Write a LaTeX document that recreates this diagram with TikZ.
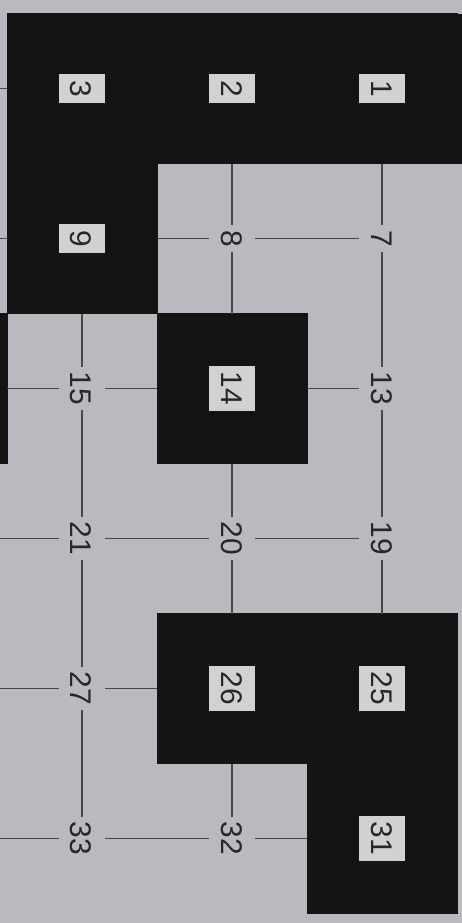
\documentclass[tikz,border=0pt]{standalone}
\usepackage{fontspec}
\setmainfont{Liberation Sans}
\usetikzlibrary{positioning}

\definecolor{paper}{RGB}{187,185,191}
\definecolor{ink}{RGB}{22,19,21}
\definecolor{tag}{RGB}{210,208,211}
\definecolor{wire}{RGB}{72,70,74}
\definecolor{digit}{RGB}{40,38,40}

\tikzset{
  cell/.style={fill=ink, draw=ink, line width=0.4pt, minimum size=3cm, inner sep=0pt, outer sep=0pt},
  boxed/.style={fill=tag, rotate=-90, text=digit, font=\fontsize{17}{17}\selectfont,
    text height=0.44cm, text depth=0pt, minimum height=0.92cm, minimum width=0.56cm,
    inner xsep=0.12cm, inner ysep=0pt},
  plain/.style={rotate=-90, text=digit, font=\fontsize{17}{17}\selectfont,
    text height=0.44cm, text depth=0pt, inner xsep=0.1cm, inner ysep=0.24cm},
  wire/.style={draw=wire, line width=0.7pt}
}

\begin{document}
\begin{tikzpicture}

  % The sheet
  \useasboundingbox (0,0) rectangle (9.24,-18.46);
  \fill[paper] (0,0) rectangle (9.24,-18.46);
  \clip (0,0) rectangle (9.24,-18.46);

  % Black cells
  \node[cell] (c1) at (7.64,-1.77) {};
  \node[cell] (c2) at (4.64,-1.77) {};
  \node[cell] (c3) at (1.64,-1.77) {};
  \node[cell] (c9) at (1.64,-4.77) {};
  \node[cell] (c14) at (4.64,-7.77) {};
  \node[cell] (c16) at (-1.36,-7.77) {};
  \node[cell] (c25) at (7.64,-13.77) {};
  \node[cell] (c26) at (4.64,-13.77) {};
  \node[cell] (c31) at (7.64,-16.77) {};
  \fill[ink] (c1.north east) rectangle ([xshift=0.1cm]c1.south east);

  % Numbers in the black cells
  \foreach \n in {1,2,3,9,14,25,26,31}
    \node[boxed] (n\n) at (c\n) {\n};

  % Numbers on the grid
  \node[plain] (n7) at (7.64,-4.77) {7};
  \node[plain] (n8) at (4.64,-4.77) {8};
  \node[plain] (n13) at (7.64,-7.77) {13};
  \node[plain] (n15) at (1.64,-7.77) {15};
  \node[plain] (n19) at (7.64,-10.77) {19};
  \node[plain] (n20) at (4.64,-10.77) {20};
  \node[plain] (n21) at (1.64,-10.77) {21};
  \node[plain] (n27) at (1.64,-13.77) {27};
  \node[plain] (n32) at (4.64,-16.77) {32};
  \node[plain] (n33) at (1.64,-16.77) {33};

  % Where the rows leave the sheet
  \coordinate (w1) at (0,-1.77);
  \coordinate (w2) at (0,-4.77);
  \coordinate (w4) at (0,-10.77);
  \coordinate (w5) at (0,-13.77);
  \coordinate (w6) at (0,-16.77);

  % Rows
  \foreach \a/\b in {w1/c3, w2/c9, c9/n8, n8/n7, c16/n15, n15/c14, c14/n13,
                     w4/n21, n21/n20, n20/n19, w5/n27, n27/c26,
                     w6/n33, n33/n32, n32/c31}
    \draw[wire] (\a) -- (\b);

  % Columns
  \foreach \a/\b in {c1/n7, n7/n13, n13/n19, n19/c25,
                     c2/n8, n8/c14, c14/n20, n20/c26, c26/n32,
                     c9/n15, n15/n21, n21/n27, n27/n33}
    \draw[wire] (\a) -- (\b);

\end{tikzpicture}
\end{document}
